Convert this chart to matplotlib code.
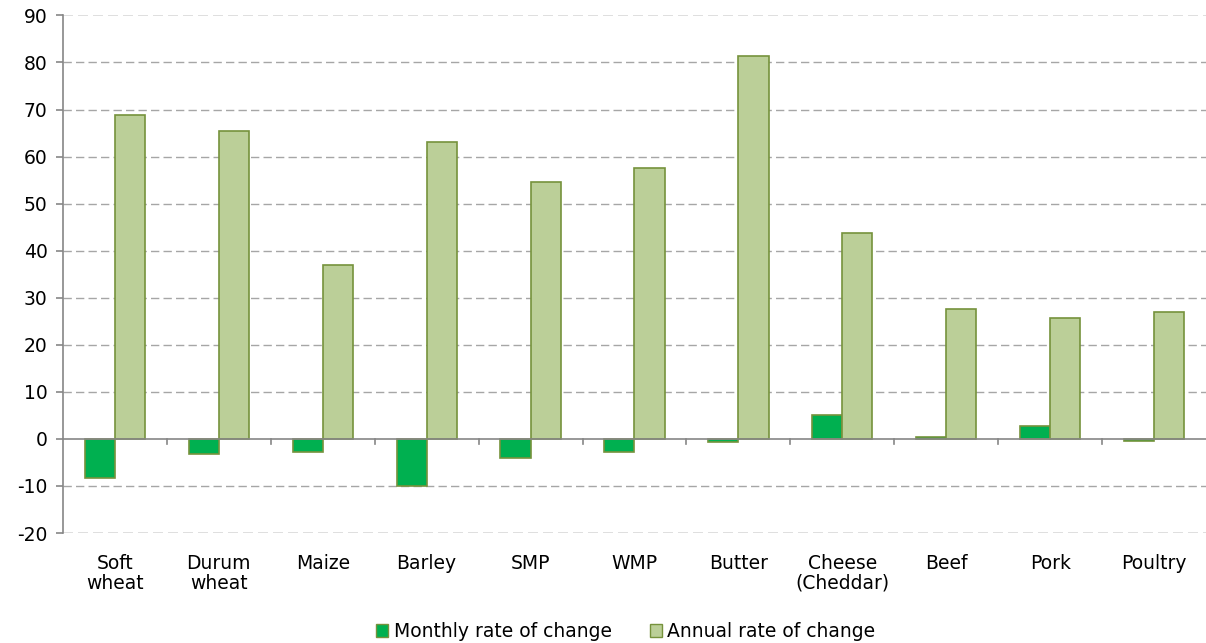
import matplotlib
matplotlib.use("Agg")
import matplotlib.pyplot as plt
import numpy as np
from matplotlib.patches import Patch

categories = ["Soft\nwheat", "Durum\nwheat", "Maize", "Barley", "SMP", "WMP",
              "Butter", "Cheese\n(Cheddar)", "Beef", "Pork", "Poultry"]
monthly = [-8.2, -3.2, -2.8, -10.1, -4.0, -2.8, -0.7, 5.1, 0.4, 2.7, -0.4]
annual = [68.9, 65.5, 37.0, 63.0, 54.5, 57.6, 81.4, 43.7, 27.7, 25.8, 26.9]
yticks = list(range(-20, 91, 10))

plt.rcParams['font.family'] = ['DejaVu Sans']
fig = plt.figure(figsize=(12.06, 6.43), dpi=100)
ax = fig.add_axes([0.0522, 0.171, 0.9478, 0.805])

x = np.arange(len(categories))
w = 0.29
mcol = "#00B050"
acol = "#BBCF98"
ecol = "#76923C"
ax.bar(x - w/2, monthly, w, color=mcol, edgecolor=ecol, linewidth=1.2, zorder=3)
ax.bar(x + w/2, annual, w, color=acol, edgecolor=ecol, linewidth=1.2, zorder=3)

ax.set_xlim(-0.5, len(categories) - 0.5)
ax.set_ylim(-20, 90)
ax.set_yticks(yticks)
ax.set_yticklabels([str(v) for v in yticks], fontsize=13.5)
for v in yticks:
    if v in (-20, 90):
        ax.axhline(v, color="#D9D9D9", linestyle=(0, (6, 3)), linewidth=1.2, zorder=1)
    elif v != 0:
        ax.axhline(v, color="#A6A6A6", linestyle=(0, (6, 3)), linewidth=1.0, zorder=1)
ax.axhline(0, color="#868686", linewidth=1.2, zorder=4)
# category boundary tick marks on zero line
for b in np.arange(0.5, len(categories) - 0.5, 1.0):
    ax.plot([b, b], [0, -1.0], color="#868686", linewidth=1.2, zorder=4, clip_on=False)

ax.set_xticks(x)
ax.set_xticklabels(categories, fontsize=13.5, linespacing=1.05)
ax.tick_params(axis='x', length=0, pad=15)
ax.tick_params(axis='y', length=5, color="#868686", width=1.2, pad=6)
for s in ["top", "right", "bottom"]:
    ax.spines[s].set_visible(False)
ax.spines["left"].set_color("#868686")
ax.spines["left"].set_linewidth(1.2)

handles = [Patch(facecolor=mcol, edgecolor=ecol, label="Monthly rate of change"),
           Patch(facecolor=acol, edgecolor=ecol, label="Annual rate of change")]
fig.legend(handles=handles, loc="center", bbox_to_anchor=(0.519, 0.018), ncol=2,
           frameon=False, fontsize=13.5, handlelength=0.65, handleheight=0.65,
           handletextpad=0.3, columnspacing=2.0)

fig.savefig("out.png", dpi=100)
